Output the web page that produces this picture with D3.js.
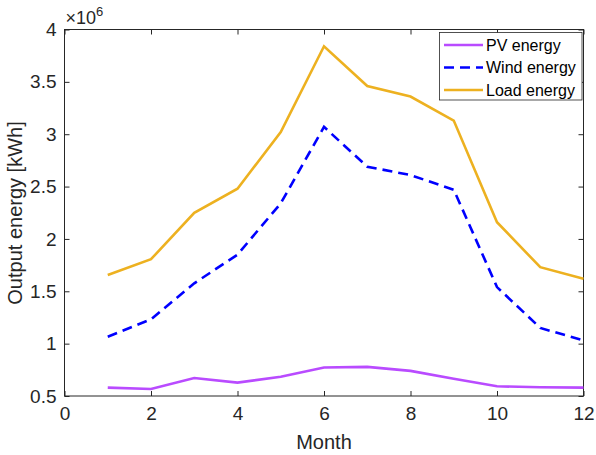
<!DOCTYPE html>
<html><head><meta charset="utf-8">
<script src="https://cdn.jsdelivr.net/npm/d3@7"></script>
<style>body{margin:0;background:#fff}svg{display:block}text{font-family:"Liberation Sans",Arial,sans-serif}</style>
</head><body><div id="c"></div>
<script>
const months = [1,2,3,4,5,6,7,8,9,10,11,12];
const pvEnergy   = [0.58,0.567,0.672,0.628,0.683,0.772,0.778,0.74,0.665,0.593,0.583,0.58];
const windEnergy = [1.066,1.233,1.576,1.85,2.34,3.07,2.69,2.61,2.47,1.54,1.15,1.03];
const loadEnergy = [1.656,1.806,2.25,2.48,3.02,3.84,3.46,3.36,3.13,2.16,1.73,1.62];
const xTicks = [0,2,4,6,8,10,12];
const yTicks = [0.5,1,1.5,2,2.5,3,3.5,4];
const seriesNames = ["PV energy","Wind energy","Load energy"];

const W=596,H=455;
const m={l:64.5,r:583.5,t:29.5,b:396};
const svg=d3.select("#c").append("svg").attr("width",W).attr("height",H);
const x=d3.scaleLinear().domain([0,12]).range([m.l,m.r]);
const y=d3.scaleLinear().domain([0.5,4]).range([m.b,m.t]);
const ax="#262626";

svg.append("rect").attr("x",m.l).attr("y",m.t).attr("width",m.r-m.l).attr("height",m.b-m.t)
  .attr("fill","none").attr("stroke",ax).attr("stroke-width",1);

const fmt=d=>String(d);
const tl=5;
const xb=svg.append("g").attr("transform",`translate(0,${m.b})`).call(d3.axisBottom(x).tickValues(xTicks).tickSizeInner(-tl).tickSizeOuter(0).tickPadding(11).tickFormat(fmt));
const xt=svg.append("g").attr("transform",`translate(0,${m.t})`).call(d3.axisTop(x).tickValues(xTicks).tickSizeInner(-tl).tickSizeOuter(0).tickFormat(""));
const yl=svg.append("g").attr("transform",`translate(${m.l},0)`).call(d3.axisLeft(y).tickValues(yTicks).tickSizeInner(-tl).tickSizeOuter(0).tickPadding(8).tickFormat(fmt));
const yr=svg.append("g").attr("transform",`translate(${m.r},0)`).call(d3.axisRight(y).tickValues(yTicks).tickSizeInner(-tl).tickSizeOuter(0).tickFormat(""));
[xb,xt,yl,yr].forEach(g=>{g.select(".domain").remove();g.selectAll("line").attr("stroke",ax);g.selectAll("text").attr("fill",ax).style("font-size","19px").style("font-family","Liberation Sans, Arial, sans-serif");});

const ex=svg.append("text").attr("x",m.l+1).attr("y",24).attr("fill",ax).style("font-size","18px");
ex.append("tspan").text("×10");
ex.append("tspan").attr("dy",-8).style("font-size","13px").text("6");

svg.append("text").attr("x",(m.l+m.r)/2).attr("y",449).attr("text-anchor","middle").attr("fill",ax).style("font-size","20px").text("Month");
svg.append("text").attr("transform",`translate(22,213) rotate(-90)`).attr("text-anchor","middle").attr("fill",ax).style("font-size","20px").text("Output energy [kWh]");

const series=[
 {name:seriesNames[0],vals:pvEnergy,color:"#B94BFF",dash:null},
 {name:seriesNames[1],vals:windEnergy,color:"#0000FF",dash:"10,6"},
 {name:seriesNames[2],vals:loadEnergy,color:"#EDB120",dash:null}
];
const line=d3.line().x((d,i)=>x(months[i])).y(d=>y(d));
series.forEach(s=>{
  svg.append("path").datum(s.vals).attr("d",line).attr("fill","none").attr("stroke",s.color)
    .attr("stroke-width",2.6).attr("stroke-dasharray",s.dash).attr("stroke-linejoin","miter");
});

const lg=svg.append("g");
lg.append("rect").attr("x",439.5).attr("y",32.5).attr("width",142.5).attr("height",67.5).attr("fill","#fff").attr("stroke",ax).attr("stroke-width",0.8);
series.forEach((s,i)=>{
  const yy=45+i*22.5;
  lg.append("line").attr("x1",444).attr("x2",483).attr("y1",yy).attr("y2",yy).attr("stroke",s.color).attr("stroke-width",2.6).attr("stroke-dasharray",s.dash);
  lg.append("text").attr("x",486).attr("y",yy+5.7).attr("fill","#000").style("font-size","16px").text(s.name);
});
</script></body></html>
